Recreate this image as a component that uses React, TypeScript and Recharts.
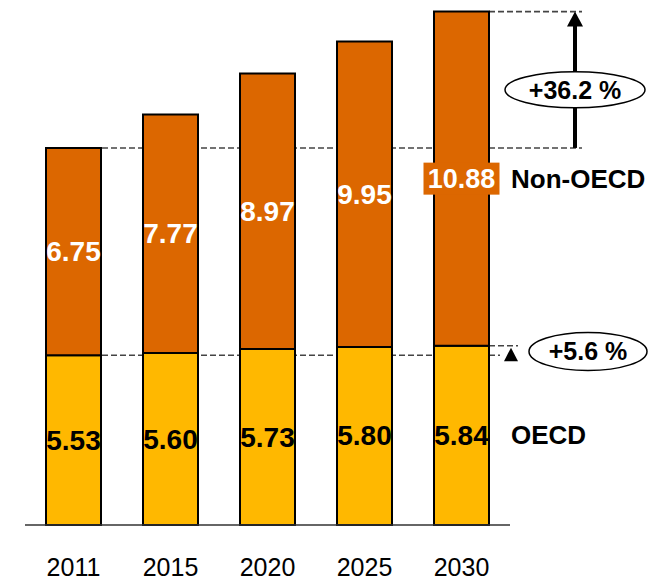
import React from "react";
import { BarChart, Bar, XAxis, YAxis, LabelList, ReferenceLine, ReferenceArea } from "recharts";

const years = ["2011", "2015", "2020", "2025", "2030"];
const oecd = [5.53, 5.6, 5.73, 5.8, 5.84];
const nonOecd = [6.75, 7.77, 8.97, 9.95, 10.88];
const seriesNames = ["OECD", "Non-OECD"];
const growthLabels = ["+5.6 %", "+36.2 %"];

const data = years.map((y, i) => ({ year: y, oecd: oecd[i], nonOecd: nonOecd[i] }));
const total0 = oecd[0] + nonOecd[0];
const totalN = oecd[oecd.length - 1] + nonOecd[nonOecd.length - 1];

const FONT = "'Liberation Sans', Arial, Helvetica, sans-serif";
const ORANGE = "#DC6700";
const YELLOW = "#FFB800";
const DASH = "#444444";

const dashedShape = (xFrom: number, xTo: number) => (p: any) => (
  <line x1={xFrom} x2={xTo} y1={p.y1} y2={p.y1} stroke={DASH} strokeWidth={1.6} strokeDasharray="6 3" />
);

const Tick = (props: any) => (
  <text x={props.x} y={props.y + 43} textAnchor="middle"
    fontFamily={FONT} fontSize={25} fill="#000">{props.payload.value}</text>
);

const makeLabel = (series: number) => (props: any) => {
  const { x, y, width, height, value, index } = props;
  const cx = x + width / 2;
  const cy = y + height / 2;
  const last = index === years.length - 1;
  const color = series === 0 ? "#000" : "#fff";
  return (
    <g>
      {last && series === 1 && (
        <rect x={cx - 38} y={cy - 16} width={76} height={32} fill={ORANGE} />
      )}
      <text x={cx} y={cy} textAnchor="middle" dominantBaseline="central" fontFamily={FONT}
        fontWeight="bold" fontSize={last && series === 1 ? 27 : 28} fill={color}>
        {Number(value).toFixed(2)}
      </text>
      {last && (
        <text x={x + width + 22} y={cy} textAnchor="start" dominantBaseline="central" fontFamily={FONT}
          fontWeight="bold" fontSize={26} fill="#000">
          {seriesNames[series]}
        </text>
      )}
    </g>
  );
};

const bigArrow = (p: any) => {
  const top = p.y;
  const bottom = p.y + p.height;
  const ax = 575;
  const cy = (top + bottom) / 2 + 10;
  return (
    <g>
      <line x1={ax} x2={ax} y1={bottom} y2={top + 14} stroke="#000" strokeWidth={4} />
      <polygon points={`${ax - 8},${top + 15} ${ax + 8},${top + 15} ${ax},${top}`} fill="#000" />
      <ellipse cx={ax} cy={cy} rx={70} ry={18} fill="#fff" stroke="#000" strokeWidth={1.5} />
      <text x={ax} y={cy} textAnchor="middle" dominantBaseline="central" fontFamily={FONT}
        fontWeight="bold" fontSize={25} fill="#000">{growthLabels[1]}</text>
    </g>
  );
};

const smallArrow = (p: any) => {
  const top = p.y;
  const bottom = p.y + p.height;
  const ax = 511;
  const cy = (top + bottom) / 2 + 1;
  return (
    <g>
      <polygon points={`${ax - 7},${bottom + 6} ${ax + 7},${bottom + 6} ${ax},${top + 2}`} fill="#000" />
      <ellipse cx={588} cy={cy} rx={59} ry={19} fill="#fff" stroke="#000" strokeWidth={1.5} />
      <text x={588} y={cy} textAnchor="middle" dominantBaseline="central" fontFamily={FONT}
        fontWeight="bold" fontSize={25} fill="#000">{growthLabels[0]}</text>
    </g>
  );
};

export default function App() {
  return (
    <div style={{ position: "absolute", left: 0, top: 0, width: 664, height: 580, background: "#fff" }}>
      <BarChart width={664} height={580} data={data}
        margin={{ top: 3, right: 154, bottom: 0, left: 25 }} barCategoryGap={0}>
        <YAxis hide type="number" domain={[0, 17]} />
        <XAxis dataKey="year" height={55} tickLine={false} axisLine={{ stroke: "#333", strokeWidth: 1.5 }}
          tick={<Tick />} interval={0} />
        <ReferenceLine y={total0} zIndex={100} shape={dashedShape(102, 582)} />
        <ReferenceLine y={totalN} zIndex={100} shape={dashedShape(489, 582)} />
        <ReferenceLine y={oecd[0]} zIndex={100} shape={dashedShape(102, 500)} />
        <ReferenceLine y={oecd[oecd.length - 1]} zIndex={100} shape={dashedShape(489, 518)} />
        <ReferenceArea y1={total0} y2={totalN} shape={bigArrow} />
        <ReferenceArea y1={oecd[0]} y2={oecd[oecd.length - 1]} shape={smallArrow} />
        <Bar dataKey="oecd" stackId="a" fill={YELLOW} stroke="#000" strokeWidth={2} barSize={55} isAnimationActive={false}>
          <LabelList dataKey="oecd" content={makeLabel(0)} />
        </Bar>
        <Bar dataKey="nonOecd" stackId="a" fill={ORANGE} stroke="#000" strokeWidth={2} barSize={55} isAnimationActive={false}>
          <LabelList dataKey="nonOecd" content={makeLabel(1)} />
        </Bar>
      </BarChart>
    </div>
  );
}
